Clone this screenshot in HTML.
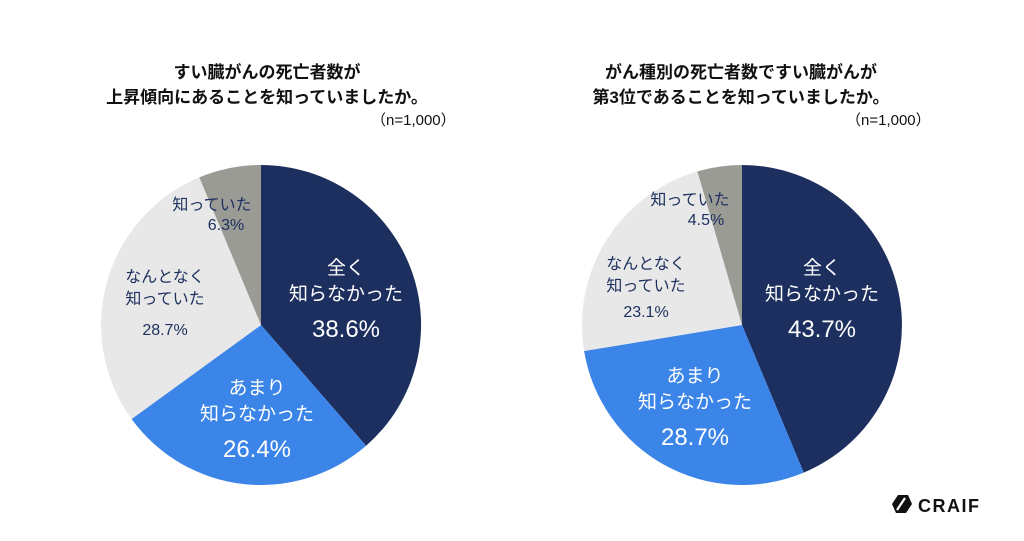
<!DOCTYPE html>
<html><head><meta charset="utf-8"><style>
body{margin:0;background:#fff;}
svg text{font-family:"Liberation Sans","Noto Sans CJK JP",sans-serif;}
</style></head><body>
<svg width="1024" height="536" viewBox="0 0 1024 536" xmlns="http://www.w3.org/2000/svg">
<rect width="1024" height="536" fill="#fff"/>
<g font-weight="bold" font-size="17" fill="#111" text-anchor="middle">
<text x="267" y="78">すい臓がんの死亡者数が</text>
<text x="267" y="103">上昇傾向にあることを知っていましたか。</text>
<text x="741" y="78">がん種別の死亡者数ですい臓がんが</text>
<text x="741" y="103">第3位であることを知っていましたか。</text>
</g>
<g font-size="15" fill="#111">
<text x="371" y="125">（n=1,000）</text>
<text x="846" y="125">（n=1,000）</text>
</g>
<path d="M261,325 L261,165 A160,160 0 0 1 366.1,445.7 Z" fill="#1c2f5e"/>
<path d="M261,325 L366.1,445.7 A160,160 0 0 1 131.6,419 Z" fill="#3b84e8"/>
<path d="M261,325 L131.6,419 A160,160 0 0 1 199.3,177.4 Z" fill="#e8e8e8"/>
<path d="M261,325 L199.3,177.4 A160,160 0 0 1 261,165 Z" fill="#9b9b96"/>
<path d="M742,325 L742,165 A160,160 0 0 1 803.7,472.6 Z" fill="#1c2f5e"/>
<path d="M742,325 L803.7,472.6 A160,160 0 0 1 584.1,351 Z" fill="#3b84e8"/>
<path d="M742,325 L584.1,351 A160,160 0 0 1 697.4,171.4 Z" fill="#e8e8e8"/>
<path d="M742,325 L697.4,171.4 A160,160 0 0 1 742,165 Z" fill="#9b9b96"/>
<g text-anchor="middle" fill="#fff">
<text x="346" y="274" font-size="19">全く</text>
<text x="346" y="300" font-size="19">知らなかった</text>
<text x="346" y="337" font-size="24">38.6%</text>
<text x="257" y="394" font-size="19">あまり</text>
<text x="257" y="420" font-size="19">知らなかった</text>
<text x="257" y="457" font-size="24">26.4%</text>
<text x="822" y="274" font-size="19">全く</text>
<text x="822" y="300" font-size="19">知らなかった</text>
<text x="822" y="337" font-size="24">43.7%</text>
<text x="695" y="382" font-size="19">あまり</text>
<text x="695" y="408" font-size="19">知らなかった</text>
<text x="695" y="445" font-size="24">28.7%</text>
</g>
<g text-anchor="middle" fill="#1c2f5e" font-size="16">
<text x="165" y="282">なんとなく</text>
<text x="165" y="304">知っていた</text>
<text x="165" y="335">28.7%</text>
<text x="212" y="210">知っていた</text>
<text x="226" y="230">6.3%</text>
<text x="646" y="269">なんとなく</text>
<text x="646" y="291">知っていた</text>
<text x="646" y="317">23.1%</text>
<text x="690" y="205">知っていた</text>
<text x="706" y="225">4.5%</text>
</g>
<g transform="translate(892,495)">
<path d="M6,0 L16,0 L20,9 L14,18 L4,18 L0,9 Z" fill="#111"/>
<path d="M13,3 L5,15" stroke="#fff" stroke-width="2.2"/>
</g>
<text x="918" y="512" font-size="18" font-weight="bold" fill="#111" letter-spacing="1.5">CRAIF</text>
</svg>
</body></html>
